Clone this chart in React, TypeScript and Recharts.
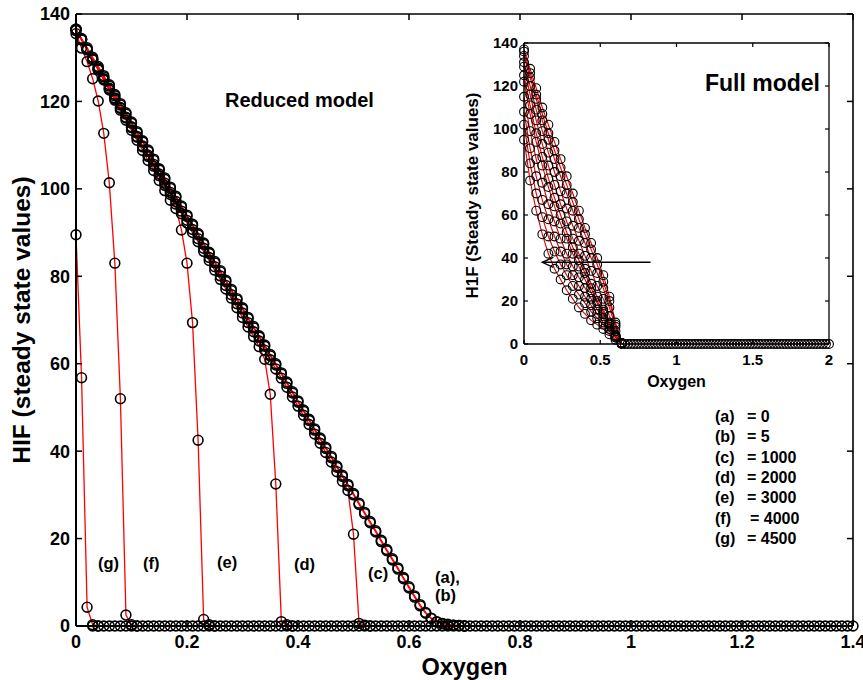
import React from 'react';
import { LineChart, Line, XAxis, YAxis, ReferenceLine } from 'recharts';

// ---------- Main (reduced model) data ----------
const OXYGEN = [
  0, 0.01, 0.02, 0.03, 0.04, 0.05, 0.06, 0.07, 0.08, 0.09,
  0.1, 0.11, 0.12, 0.13, 0.14, 0.15, 0.16, 0.17, 0.18, 0.19,
  0.2, 0.21, 0.22, 0.23, 0.24, 0.25, 0.26, 0.27, 0.28, 0.29,
  0.3, 0.31, 0.32, 0.33, 0.34, 0.35, 0.36, 0.37, 0.38, 0.39,
  0.4, 0.41, 0.42, 0.43, 0.44, 0.45, 0.46, 0.47, 0.48, 0.49,
  0.5, 0.51, 0.52, 0.53, 0.54, 0.55, 0.56, 0.57, 0.58, 0.59,
  0.6, 0.61, 0.62, 0.63, 0.64, 0.65, 0.66, 0.67, 0.68, 0.69,
  0.7, 0.71, 0.72, 0.73, 0.74, 0.75, 0.76, 0.77, 0.78, 0.79,
  0.8, 0.81, 0.82, 0.83, 0.84, 0.85, 0.86, 0.87, 0.88, 0.89,
  0.9, 0.91, 0.92, 0.93, 0.94, 0.95, 0.96, 0.97, 0.98, 0.99,
  1, 1.01, 1.02, 1.03, 1.04, 1.05, 1.06, 1.07, 1.08, 1.09,
  1.1, 1.11, 1.12, 1.13, 1.14, 1.15, 1.16, 1.17, 1.18, 1.19,
  1.2, 1.21, 1.22, 1.23, 1.24, 1.25, 1.26, 1.27, 1.28, 1.29,
  1.3, 1.31, 1.32, 1.33, 1.34, 1.35, 1.36, 1.37, 1.38, 1.39,
  1.4,
];

// (a) = 0
const HIF_A = [
  136.5, 134.4, 132.3, 130.1, 128.0, 125.9, 123.8, 121.6, 119.5, 117.4,
  115.3, 113.1, 111.0, 108.9, 106.8, 104.6, 102.5, 100.4, 98.3, 96.1,
  94.0, 91.9, 89.8, 87.6, 85.5, 83.4, 81.3, 79.1, 77.0, 74.9,
  72.8, 70.6, 68.5, 66.4, 64.3, 62.1, 60.0, 57.9, 55.8, 53.6,
  51.5, 49.4, 47.3, 45.1, 43.0, 40.9, 38.8, 36.6, 34.5, 32.4,
  30.3, 28.1, 26.0, 23.9, 21.8, 19.6, 17.5, 15.4, 13.3, 11.1,
  9.0, 6.9, 4.9, 3.1, 1.8, 1.0, 0.6, 0.4, 0.2, 0.1, 0,
];
// (b) = 5
const HIF_B = [
  136.2, 134.1, 132.0, 129.8, 127.7, 125.6, 123.5, 121.3, 119.2, 117.1,
  115.0, 112.8, 110.7, 108.6, 106.5, 104.3, 102.2, 100.1, 98.0, 95.8,
  93.7, 91.6, 89.5, 87.3, 85.2, 83.1, 81.0, 78.8, 76.7, 74.6,
  72.5, 70.3, 68.2, 66.1, 64.0, 61.8, 59.7, 57.6, 55.5, 53.3,
  51.2, 49.1, 47.0, 44.8, 42.7, 40.6, 38.5, 36.3, 34.2, 32.1,
  30.0, 27.8, 25.7, 23.6, 21.5, 19.3, 17.2, 15.1, 13.0, 10.8,
  8.7, 6.6, 4.6, 2.9, 1.7, 0.9, 0.5, 0.3, 0.2, 0.1, 0,
];
// (c) = 1000
const HIF_C = [
  136.5, 134.2, 131.9, 129.6, 127.4, 125.2, 123.0, 120.8, 118.6, 116.4,
  114.2, 112.0, 109.8, 107.7, 105.6, 103.4, 101.3, 99.2, 97.1, 94.9,
  92.8, 90.7, 88.6, 86.4, 84.3, 82.2, 80.1, 77.9, 75.8, 73.7,
  71.6, 69.4, 67.3, 65.2, 63.1, 60.9, 58.8, 56.7, 54.6, 52.4,
  50.3, 48.2, 46.1, 43.9, 41.8, 39.7, 37.5, 35.3, 33.1, 31.0,
  21.0, 0.6, 0.2, 0,
];
// (d) = 2000
const HIF_D = [
  136.5, 134.2, 131.9, 129.6, 127.3, 125.1, 122.9, 120.6, 118.4, 116.2,
  114.0, 111.8, 109.6, 107.4, 105.2, 103.0, 100.8, 98.7, 96.5, 94.3,
  92.2, 90.0, 87.9, 85.7, 83.6, 81.4, 79.3, 77.1, 75.0, 72.8,
  70.6, 68.4, 66.2, 63.9, 61.0, 53.0, 32.5, 1.0, 0.3, 0,
];
// (e) = 3000
const HIF_E = [
  136.5, 134.1, 131.8, 129.5, 127.2, 124.9, 122.6, 120.3, 118.0, 115.7,
  113.4, 111.1, 108.8, 106.5, 104.2, 101.9, 99.6, 97.4, 95.5, 90.6,
  83.0, 69.4, 42.5, 1.5, 0.3, 0,
];
// (f) = 4000
const HIF_F = [135.5, 132.2, 129.1, 125.2, 120.1, 112.7, 101.4, 83.0, 52.0, 2.5, 0.3, 0];
// (g) = 4500
const HIF_G = [89.5, 56.8, 4.3, 0.3, 0];

// common zero tail of all curves, from Oxygen = 0.03 to 1.4
const ZERO_TAIL_START = 3;
const HIF_ZERO_TAIL = [
  0, 0, 0, 0, 0, 0, 0, 0, 0, 0, 0, 0, 0, 0, 0, 0, 0, 0, 0, 0,
  0, 0, 0, 0, 0, 0, 0, 0, 0, 0, 0, 0, 0, 0, 0, 0, 0, 0, 0, 0,
  0, 0, 0, 0, 0, 0, 0, 0, 0, 0, 0, 0, 0, 0, 0, 0, 0, 0, 0, 0,
  0, 0, 0, 0, 0, 0, 0, 0, 0, 0, 0, 0, 0, 0, 0, 0, 0, 0, 0, 0,
  0, 0, 0, 0, 0, 0, 0, 0, 0, 0, 0, 0, 0, 0, 0, 0, 0, 0, 0, 0,
  0, 0, 0, 0, 0, 0, 0, 0, 0, 0, 0, 0, 0, 0, 0, 0, 0, 0, 0, 0,
  0, 0, 0, 0, 0, 0, 0, 0, 0, 0, 0, 0, 0, 0, 0, 0, 0, 0,
];

const X_TICKS = [0, 0.2, 0.4, 0.6, 0.8, 1, 1.2, 1.4];
const Y_TICKS = [0, 20, 40, 60, 80, 100, 120, 140];

const CURVE_LABELS = ['(g)', '(f)', '(e)', '(d)', '(c)', '(a),', '(b)'];
const LEGEND_KEYS = ['(a)', '(b)', '(c)', '(d)', '(e)', '(f)', '(g)'];
const LEGEND_VALUES = ['=  0', '= 5', '= 1000', '= 2000', '= 3000', '= 4000', '= 4500'];

// ---------- Inset (full model) data ----------
const INSET_OXYGEN = [0, 0.04, 0.08, 0.12, 0.16, 0.2, 0.24, 0.28, 0.32, 0.36, 0.4, 0.44, 0.48, 0.52, 0.56, 0.6, 0.64];
const INSET_H1 = [137, 128, 119, 110, 102, 94, 86, 78, 70, 62, 54, 47, 40, 32, 22, 10, 0.5];
const INSET_H2 = [136, 126, 116, 107, 98, 90, 82, 74, 66, 58, 51, 44, 37, 29, 20, 9, 0.5];
const INSET_H3 = [134, 124, 114, 104, 95, 86, 78, 70, 62, 54, 47, 40, 33, 26, 17, 8, 0.5];
const INSET_H4 = [131, 120, 109, 99, 89, 80, 71, 63, 55, 48, 41, 34, 27, 21, 13, 6, 0.5];
const INSET_H5 = [129, 116, 104, 93, 83, 74, 65, 57, 49, 42, 35, 28, 22, 16, 10, 4, 0.4];
const INSET_H6 = [125, 111, 98, 87, 77, 68, 60, 52, 45, 39, 33, 26, 20, 15, 9.5, 4, 0.4];
const INSET_H7 = [122, 107, 94, 83, 73, 64, 56, 49, 42, 36, 30, 24, 19, 14, 9, 4, 0.4];
const INSET_H8 = [115, 99, 86, 75, 65, 57, 49, 42, 36, 31, 26, 21, 16, 12, 8, 3.5, 0.3];
const INSET_H9 = [108, 91, 78, 67, 58, 50, 43, 37, 32, 27, 22, 18, 14, 10, 7, 3, 0.3];
const INSET_H10 = [102, 84, 70, 59, 50, 43, 37, 32, 27, 23, 19, 15, 12, 9, 6, 3, 0.3];
const INSET_H11 = [95, 76, 62, 51, 42, 35, 30, 25, 21, 17, 14, 11, 9, 7, 4.5, 2, 0.2];

const INSET_TAIL_OXYGEN = [
  0.64, 0.66, 0.68, 0.7, 0.72, 0.74, 0.76, 0.78, 0.8, 0.82, 0.84, 0.86, 0.88, 0.9, 0.92, 0.94, 0.96, 0.98,
  1, 1.02, 1.04, 1.06, 1.08, 1.1, 1.12, 1.14, 1.16, 1.18, 1.2, 1.22, 1.24, 1.26, 1.28, 1.3, 1.32, 1.34,
  1.36, 1.38, 1.4, 1.42, 1.44, 1.46, 1.48, 1.5, 1.52, 1.54, 1.56, 1.58, 1.6, 1.62, 1.64, 1.66, 1.68,
  1.7, 1.72, 1.74, 1.76, 1.78, 1.8, 1.82, 1.84, 1.86, 1.88, 1.9, 1.92, 1.94, 1.96, 1.98, 2,
];
const INSET_TAIL = [
  0, 0, 0, 0, 0, 0, 0, 0, 0, 0, 0, 0, 0, 0, 0, 0, 0, 0, 0, 0, 0, 0, 0,
  0, 0, 0, 0, 0, 0, 0, 0, 0, 0, 0, 0, 0, 0, 0, 0, 0, 0, 0, 0, 0, 0, 0,
  0, 0, 0, 0, 0, 0, 0, 0, 0, 0, 0, 0, 0, 0, 0, 0, 0, 0, 0, 0, 0, 0, 0,
];
const INSET_X_TICKS = [0, 0.5, 1, 1.5, 2];
const INSET_Y_TICKS = [0, 20, 40, 60, 80, 100, 120, 140];
const ARROW_SEGMENT = [{ x: 0.83, y: 38 }, { x: 0.12, y: 38 }];

// ---------- helpers ----------
const FONT = '"Liberation Sans", Arial, Helvetica, sans-serif';
const toPoints = (xs: number[], ys: number[], offset = 0) =>
  ys.map((y, i) => ({ x: xs[i + offset], y }));

const MAIN_SERIES = [
  { name: 'g', pts: toPoints(OXYGEN, HIF_G) },
  { name: 'f', pts: toPoints(OXYGEN, HIF_F) },
  { name: 'e', pts: toPoints(OXYGEN, HIF_E) },
  { name: 'd', pts: toPoints(OXYGEN, HIF_D) },
  { name: 'c', pts: toPoints(OXYGEN, HIF_C) },
  { name: 'b', pts: toPoints(OXYGEN, HIF_B) },
  { name: 'a', pts: toPoints(OXYGEN, HIF_A) },
];
const MAIN_TAIL = toPoints(OXYGEN, HIF_ZERO_TAIL, ZERO_TAIL_START);

const INSET_SERIES = [
  INSET_H11, INSET_H10, INSET_H9, INSET_H8, INSET_H7, INSET_H6, INSET_H5, INSET_H4, INSET_H3, INSET_H2, INSET_H1,
].map((ys, i) => ({ name: 'h' + i, pts: toPoints(INSET_OXYGEN, ys) }));
const INSET_TAIL_PTS = toPoints(INSET_TAIL_OXYGEN, INSET_TAIL);

const mainTick = { fill: '#000', fontSize: 18, fontWeight: 700 };
const insetTick = { fill: '#000', fontSize: 15, fontWeight: 700 };
const MAIN_DOT = { r: 4.9, stroke: '#000', strokeWidth: 1.6, fill: 'none' };
const INSET_DOT = { r: 4.4, stroke: '#000', strokeWidth: 1.1, fill: 'none' };
const NoLabel = () => <g />;

const ArrowShape = (p: any) => {
  const left = Math.min(p.x1, p.x2);
  const right = Math.max(p.x1, p.x2);
  const y = p.y1;
  return (
    <g>
      <line x1={right} y1={y} x2={left} y2={y} stroke="#000" strokeWidth={1.4} />
      <polyline
        points={`${left + 11},${y - 5} ${left},${y} ${left + 11},${y + 5}`}
        fill="none"
        stroke="#000"
        strokeWidth={1.4}
      />
    </g>
  );
};

const MainChart = () => (
  <LineChart width={863} height={680} margin={{ top: 13, right: 9, bottom: 0, left: 0 }}>
    <XAxis
      type="number"
      dataKey="x"
      domain={[0, 1.4]}
      ticks={X_TICKS}
      interval={0}
      height={54}
      tick={mainTick}
      tickSize={-6}
      tickMargin={15}
      axisLine={{ stroke: '#000', strokeWidth: 2 }}
      tickLine={{ stroke: '#000', strokeWidth: 1.5 }}
      label={(props: any) => {
        const vb = props.viewBox;
        return (
          <text x={vb.x + vb.width / 2} y={vb.y + 49} textAnchor="middle" fontSize={23.5} fontWeight={700} fill="#000">
            Oxygen
          </text>
        );
      }}
    />
    <XAxis
      xAxisId="top"
      orientation="top"
      type="number"
      dataKey="x"
      domain={[0, 1.4]}
      ticks={X_TICKS}
      interval={0}
      height={1}
      tick={NoLabel}
      tickSize={-6}
      axisLine={{ stroke: '#000', strokeWidth: 1.6 }}
      tickLine={{ stroke: '#000', strokeWidth: 1.5 }}
    />
    <YAxis
      type="number"
      domain={[0, 140]}
      ticks={Y_TICKS}
      interval={0}
      width={76}
      tick={mainTick}
      tickSize={-6}
      tickMargin={12}
      axisLine={{ stroke: '#000', strokeWidth: 2 }}
      tickLine={{ stroke: '#000', strokeWidth: 1.5 }}
      label={(props: any) => {
        const vb = props.viewBox;
        const cx = vb.x + 21;
        const cy = vb.y + vb.height / 2;
        return (
          <text
            x={cx}
            y={cy}
            transform={`rotate(-90 ${cx} ${cy})`}
            textAnchor="middle"
            dominantBaseline="central"
            fontSize={24.5}
            fontWeight={700}
            fill="#000"
          >
            HIF (steady state values)
          </text>
        );
      }}
    />
    <YAxis
      yAxisId="right"
      orientation="right"
      type="number"
      domain={[0, 140]}
      ticks={Y_TICKS}
      interval={0}
      width={1}
      tick={NoLabel}
      tickSize={-6}
      axisLine={{ stroke: '#000', strokeWidth: 1.6 }}
      tickLine={{ stroke: '#000', strokeWidth: 1.5 }}
    />
    {/* common zero tail, drawn on the (identical) top/right axes so that the full box is rendered */}
    <Line
      xAxisId="top"
      yAxisId="right"
      data={MAIN_TAIL}
      dataKey="y"
      type="linear"
      stroke="#ff0000"
      strokeWidth={1.3}
      dot={MAIN_DOT}
      activeDot={false}
      isAnimationActive={false}
    />
    {MAIN_SERIES.map((s) => (
      <Line
        key={s.name}
        data={s.pts}
        dataKey="y"
        type="linear"
        stroke="#ff0000"
        strokeWidth={1.3}
        dot={MAIN_DOT}
        activeDot={false}
        isAnimationActive={false}
      />
    ))}
  </LineChart>
);

const InsetChart = () => (
  <LineChart width={400} height={370} margin={{ top: 12, right: 25, bottom: 0, left: 0 }}>
    <XAxis
      type="number"
      dataKey="x"
      domain={[0, 2]}
      ticks={INSET_X_TICKS}
      interval={0}
      height={56}
      tick={insetTick}
      tickSize={-4}
      tickMargin={14}
      axisLine={{ stroke: '#000', strokeWidth: 1.5 }}
      tickLine={{ stroke: '#000', strokeWidth: 1.2 }}
      label={(props: any) => {
        const vb = props.viewBox;
        return (
          <text x={vb.x + vb.width / 2} y={vb.y + 43} textAnchor="middle" fontSize={16} fontWeight={700} fill="#000">
            Oxygen
          </text>
        );
      }}
    />
    <XAxis
      xAxisId="top"
      orientation="top"
      type="number"
      dataKey="x"
      domain={[0, 2]}
      ticks={INSET_X_TICKS}
      interval={0}
      height={1}
      tick={NoLabel}
      tickSize={-4}
      axisLine={{ stroke: '#000', strokeWidth: 1.3 }}
      tickLine={{ stroke: '#000', strokeWidth: 1.2 }}
    />
    <YAxis
      type="number"
      domain={[0, 140]}
      ticks={INSET_Y_TICKS}
      interval={0}
      width={69}
      tick={insetTick}
      tickSize={-4}
      tickMargin={10}
      axisLine={{ stroke: '#000', strokeWidth: 1.5 }}
      tickLine={{ stroke: '#000', strokeWidth: 1.2 }}
      label={(props: any) => {
        const vb = props.viewBox;
        const cx = vb.x + 17;
        const cy = vb.y + vb.height / 2 + 2;
        return (
          <text
            x={cx}
            y={cy}
            transform={`rotate(-90 ${cx} ${cy})`}
            textAnchor="middle"
            dominantBaseline="central"
            fontSize={17}
            fontWeight={700}
            fill="#000"
          >
            H1F (Steady state values)
          </text>
        );
      }}
    />
    <YAxis
      yAxisId="right"
      orientation="right"
      type="number"
      domain={[0, 140]}
      ticks={INSET_Y_TICKS}
      interval={0}
      width={1}
      tick={NoLabel}
      tickSize={-4}
      axisLine={{ stroke: '#000', strokeWidth: 1.3 }}
      tickLine={{ stroke: '#000', strokeWidth: 1.2 }}
    />
    <Line
      xAxisId="top"
      yAxisId="right"
      data={INSET_TAIL_PTS}
      dataKey="y"
      type="linear"
      stroke="#e00000"
      strokeWidth={1.1}
      dot={INSET_DOT}
      activeDot={false}
      isAnimationActive={false}
    />
    {INSET_SERIES.map((s) => (
      <Line
        key={s.name}
        data={s.pts}
        dataKey="y"
        type="linear"
        stroke="#e00000"
        strokeWidth={1.1}
        dot={INSET_DOT}
        activeDot={false}
        isAnimationActive={false}
      />
    ))}
    <ReferenceLine segment={ARROW_SEGMENT} shape={ArrowShape} ifOverflow="visible" />
  </LineChart>
);

const CURVE_LABEL_POS = [
  [98, 569], [143, 569], [217, 568], [294, 570], [368, 579], [435, 583], [435, 601],
];

export default function App() {
  return (
    <div style={{ position: 'absolute', left: 0, top: 0, width: 863, height: 680, background: '#fff', fontFamily: FONT }}>
      <div style={{ position: 'absolute', left: 0, top: 0 }}>
        <MainChart />
      </div>
      <div style={{ position: 'absolute', left: 455, top: 30 }}>
        <InsetChart />
      </div>
      <svg
        width={863}
        height={680}
        style={{ position: 'absolute', left: 0, top: 0, pointerEvents: 'none', fontFamily: FONT }}
      >
        <text x={225} y={107} fontSize={20} fontWeight={700} fill="#000">Reduced model</text>
        <text x={705} y={91} fontSize={23} fontWeight={700} fill="#000">Full model</text>
        {CURVE_LABELS.map((t, i) => (
          <text key={t} x={CURVE_LABEL_POS[i][0]} y={CURVE_LABEL_POS[i][1]} fontSize={16.5} fontWeight={700} fill="#000">
            {t}
          </text>
        ))}
        {LEGEND_KEYS.map((k, i) => (
          <text key={k} y={422 + i * 20.3} fontSize={16} fontWeight={700} fill="#000">
            <tspan x={715}>{k}</tspan>
            <tspan x={k === '(f)' ? 750 : 747}>{LEGEND_VALUES[i]}</tspan>
          </text>
        ))}
      </svg>
    </div>
  );
}
